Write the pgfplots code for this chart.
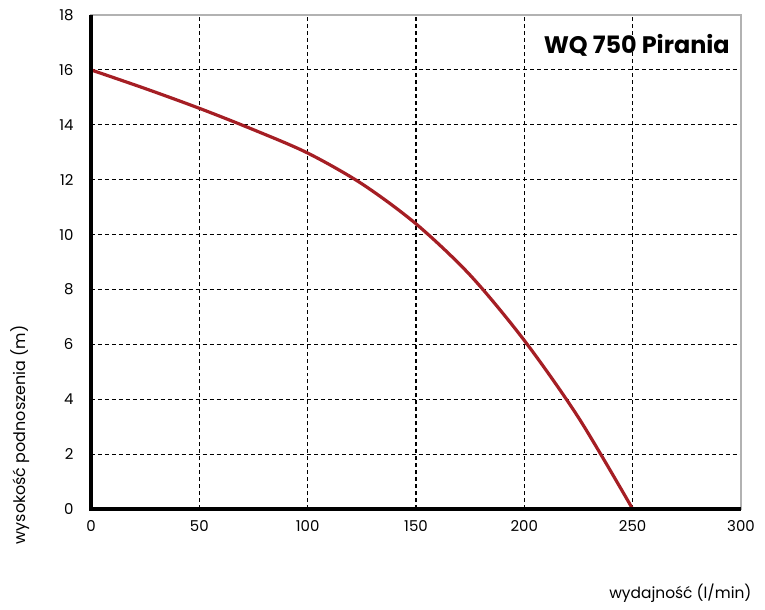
\documentclass[border=0pt]{standalone}
\usepackage{pgfplots}
\pgfplotsset{compat=1.18}
\usepackage{fontspec}
\setmainfont{Poppins}
\definecolor{curvered}{HTML}{A51E24}
\begin{document}
\begin{tikzpicture}[x=1bp,y=1bp]
\useasboundingbox (-91bp,-101bp) rectangle (674bp,509bp);
\begin{axis}[
scale only axis,
width=650bp, height=494bp,
xmin=0, xmax=300, ymin=0, ymax=18,
xtick={0,50,...,300}, ytick={0,2,...,18},
major tick length=0pt,
grid=major,
grid style={black, line width=1.1pt, dash pattern=on 4pt off 3pt},
axis line style={black!30, line width=1.2pt},
tick label style={font=\fontsize{15}{18}\selectfont, /pgf/number format/assume math mode=true},
xticklabel style={yshift=-8bp},
yticklabel style={xshift=-14bp},
xlabel={wydajność (l/min)},
ylabel={wysokość podnoszenia (m)},
xlabel style={font=\fontsize{15.5}{18}\selectfont, at={(axis description cs:1.0215,-0.17)}, anchor=east},
ylabel style={font=\fontsize{16}{19}\selectfont, at={(axis description cs:-0.109,0.15)}, anchor=center},
clip=false,
]
\addplot [curvered, line width=3.2pt, smooth] coordinates {
(0,16) (25,15.32) (50,14.6) (75,13.82) (100,12.97) (125,11.85) (150,10.39)
(175,8.52) (200,6.14) (225,3.33) (250,0)
};
\draw[black, line width=3.5pt] (rel axis cs:0,1) -- (rel axis cs:0,0) -- (rel axis cs:1,0);
\node[anchor=east, font=\fontsize{24}{28}\selectfont\bfseries] at (axis description cs:0.988,0.939) {WQ 750 Pirania};
\end{axis}
\end{tikzpicture}
\end{document}
